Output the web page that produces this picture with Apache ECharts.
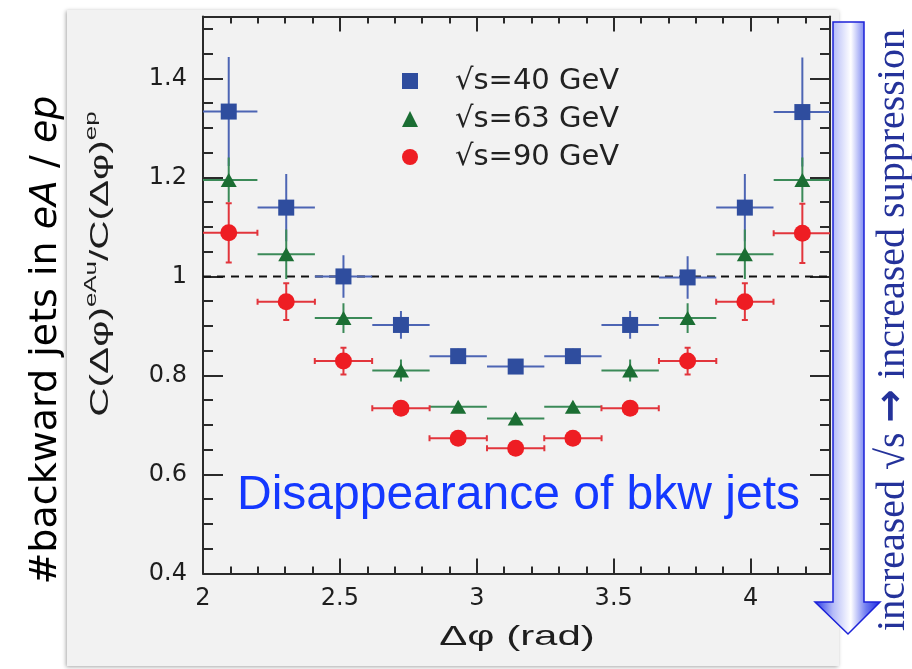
<!DOCTYPE html>
<html>
<head>
<meta charset="utf-8">
<script src="https://cdn.jsdelivr.net/npm/echarts@6/dist/echarts.min.js"></script>
<style>
  html, body { margin: 0; padding: 0; background: #ffffff; }
  #chart { width: 912px; height: 669px; }
</style>
</head>
<body>
<div id="chart"></div>
<script>
// Azimuthal decorrelation ratio eAu / ep for backward dijets at three collision energies.
const PHI = [2.094, 2.304, 2.513, 2.723, 2.932, 3.142, 3.351, 3.560, 3.770, 3.979, 4.189];
const BIN_HALF_WIDTH = 0.1047;

const SERIES_NAMES = ['\u221As=40 GeV', '\u221As=63 GeV', '\u221As=90 GeV'];

const RATIO_40 = [1.333, 1.139, 1.000, 0.902, 0.839, 0.818, 0.839, 0.902, 0.998, 1.139, 1.332];
const ERR_40   = [0.110, 0.068, 0.043, 0.028, 0.015, 0.010, 0.015, 0.028, 0.043, 0.068, 0.110];

const RATIO_63 = [1.195, 1.045, 0.916, 0.810, 0.737, 0.713, 0.737, 0.810, 0.916, 1.045, 1.195];
const ERR_63   = [0.045, 0.050, 0.030, 0.022, 0.010, 0.008, 0.010, 0.022, 0.030, 0.050, 0.045];

const RATIO_90 = [1.088, 0.949, 0.829, 0.734, 0.673, 0.653, 0.673, 0.734, 0.829, 0.949, 1.087];
const ERR_90   = [0.060, 0.037, 0.027, 0.012, 0.006, 0.005, 0.006, 0.012, 0.027, 0.037, 0.060];

const UNITY = 1;
const X_MIN = 2, X_MAX = 4.29;
const Y_MIN = 0.4, Y_MAX = 1.525;

const AXIS_COLOR = '#2a2a2a';
const tickFont = { fontFamily: 'DejaVu Sans', fontSize: 24, color: '#1e1e1e' };

function errorBarRenderer(color, width, cap) {
  return function (params, api) {
    const x = api.value(0), y = api.value(1), ex = api.value(2), ey = api.value(3);
    const l = api.coord([x - ex, y]), r = api.coord([x + ex, y]);
    const t = api.coord([x, y + ey]), b = api.coord([x, y - ey]);
    const st = { stroke: color, lineWidth: width };
    const children = [
      { type: 'line', shape: { x1: l[0], y1: l[1], x2: r[0], y2: r[1] }, style: st },
      { type: 'line', shape: { x1: t[0], y1: t[1], x2: b[0], y2: b[1] }, style: st }
    ];
    if (cap) {
      children.push(
        { type: 'line', shape: { x1: l[0], y1: l[1] - cap, x2: l[0], y2: l[1] + cap }, style: st },
        { type: 'line', shape: { x1: r[0], y1: r[1] - cap, x2: r[0], y2: r[1] + cap }, style: st },
        { type: 'line', shape: { x1: t[0] - cap, y1: t[1], x2: t[0] + cap, y2: t[1] }, style: st },
        { type: 'line', shape: { x1: b[0] - cap, y1: b[1], x2: b[0] + cap, y2: b[1] }, style: st }
      );
    }
    return { type: 'group', children: children };
  };
}

function errData(vals, errs) {
  return PHI.map((p, i) => [p, vals[i], BIN_HALF_WIDTH, errs[i]]);
}
function pointData(vals) {
  return PHI.map((p, i) => [p, vals[i]]);
}

function xAxisDef(position, interval, tickLen, withLine, withLabels) {
  return {
    type: 'value', position: position, min: X_MIN, max: X_MAX, interval: interval,
    axisLine: { show: withLine, lineStyle: { color: AXIS_COLOR, width: 2 } },
    axisTick: { show: true, inside: true, length: tickLen, lineStyle: { color: AXIS_COLOR, width: 2 } },
    axisLabel: withLabels ? Object.assign({ show: true, margin: 13, showMaxLabel: false }, tickFont) : { show: false },
    splitLine: { show: false }
  };
}
function yAxisDef(position, interval, tickLen, withLine, withLabels) {
  return {
    type: 'value', position: position, min: Y_MIN, max: Y_MAX, interval: interval,
    axisLine: { show: withLine, lineStyle: { color: AXIS_COLOR, width: 2 } },
    axisTick: { show: true, inside: true, length: tickLen, lineStyle: { color: AXIS_COLOR, width: 2 } },
    axisLabel: withLabels ? Object.assign({ show: true, margin: 16, showMaxLabel: false }, tickFont) : { show: false },
    splitLine: { show: false }
  };
}

const chart = echarts.init(document.getElementById('chart'), null, { renderer: 'canvas' });

chart.setOption({
  animation: false,
  backgroundColor: '#ffffff',
  grid: { left: 203, right: 82, top: 16.5, bottom: 95.5, show: false },
  xAxis: [
    xAxisDef('bottom', 0.5, 15, true, true),
    xAxisDef('bottom', 0.1, 7, false, false),
    xAxisDef('top', 0.5, 15, true, false),
    xAxisDef('top', 0.1, 7, false, false)
  ],
  yAxis: [
    yAxisDef('left', 0.2, 20, true, true),
    yAxisDef('left', 0.05, 10, false, false),
    yAxisDef('right', 0.2, 20, true, false),
    yAxisDef('right', 0.05, 10, false, false)
  ],
  legend: {
    data: SERIES_NAMES,
    orient: 'vertical',
    left: 397, top: 61,
    itemWidth: 16, itemHeight: 16, itemGap: 8,
    textStyle: { fontFamily: 'DejaVu Sans', fontSize: 29, color: '#222', lineHeight: 30, padding: [0, 0, 0, 32] }
  },
  graphic: [
    {
      type: 'rect', z: -100, silent: true,
      shape: { x: 67, y: 10, width: 772, height: 656 },
      style: { fill: '#f2f2f2', shadowColor: 'rgba(0,0,0,0.35)', shadowBlur: 4, shadowOffsetX: -1, shadowOffsetY: 1 }
    },
    {
      // downward arrow beside the plot frame
      type: 'polygon', z: 10, silent: true,
      shape: { points: [[833, 22], [864, 22], [864, 602], [880, 602], [848, 634], [815, 602], [833, 602]] },
      style: {
        stroke: '#1c22d8', lineWidth: 1.5,
        fill: new echarts.graphic.LinearGradient(0, 0, 1, 0, [
          { offset: 0, color: '#2030e6' },
          { offset: 0.28, color: '#b4bbf7' },
          { offset: 0.55, color: '#ffffff' },
          { offset: 0.78, color: '#6e7bf0' },
          { offset: 1, color: '#1a28e0' }
        ])
      }
    },
    {
      type: 'text', z: 10, silent: true,
      x: 893, y: 330, rotation: Math.PI / 2,
      style: {
        text: '{t|increased \u221As }{a|\u2192}{t| increased suppression}',
        align: 'center', verticalAlign: 'middle',
        rich: {
          t: { fontFamily: 'Liberation Serif', fontSize: 40, fill: '#24329a', lineHeight: 44 },
          a: { fontFamily: 'DejaVu Sans', fontSize: 40, fontWeight: 'bold', fill: '#24329a', lineHeight: 44 }
        }
      }
    },
    {
      type: 'text', z: 10, silent: true,
      x: 46, y: 340, rotation: Math.PI / 2,
      style: {
        text: '#backward jets in {it|eA}{n| / }{it|ep}',
        fontFamily: 'DejaVu Sans', fontSize: 38, fill: '#000',
        align: 'center', verticalAlign: 'middle',
        rich: {
          it: { fontFamily: 'DejaVu Sans', fontSize: 38, fontStyle: 'italic', fill: '#000' },
          n: { fontFamily: 'DejaVu Sans', fontSize: 38, fill: '#000' }
        }
      }
    },
    {
      type: 'text', z: 10, silent: true,
      x: 99, y: 264, rotation: Math.PI / 2, scaleX: 1.62,
      style: {
        text: '{m|C(\u0394\u03C6)}{s|eAu}{m|/C(\u0394\u03C6)}{s|ep}',
        align: 'center', verticalAlign: 'middle',
        rich: {
          m: { fontFamily: 'Liberation Sans', fontSize: 25, fill: '#1e1e1e', lineHeight: 30, verticalAlign: 'bottom' },
          s: { fontFamily: 'Liberation Sans', fontSize: 16, fill: '#1e1e1e', lineHeight: 30, verticalAlign: 'top' }
        }
      }
    },
    {
      type: 'text', z: 10, silent: true,
      x: 517, y: 637, scaleX: 1.5,
      style: {
        text: '\u0394\u03C6 (rad)',
        font: '28px "Liberation Sans"', fill: '#1e1e1e',
        align: 'center', verticalAlign: 'middle'
      }
    },
    {
      type: 'text', z: 10, silent: true,
      x: 237, y: 496,
      style: {
        text: 'Disappearance of bkw jets',
        font: '48px "Liberation Sans"', fill: '#1438ff',
        align: 'left', verticalAlign: 'middle'
      }
    }
  ],
  series: [
    {
      type: 'line', silent: true, z: 1, symbol: 'none',
      data: [[X_MIN, UNITY], [X_MAX, UNITY]],
      lineStyle: { color: '#111', width: 2, type: [8, 6] }
    },
    {
      type: 'custom', silent: true, z: 2, clip: true,
      renderItem: errorBarRenderer('#4d65b4', 2, 0),
      encode: { x: 0, y: 1 },
      data: errData(RATIO_40, ERR_40)
    },
    {
      type: 'custom', silent: true, z: 2, clip: true,
      renderItem: errorBarRenderer('#3b8a58', 2, 0),
      encode: { x: 0, y: 1 },
      data: errData(RATIO_63, ERR_63)
    },
    {
      type: 'custom', silent: true, z: 2, clip: true,
      renderItem: errorBarRenderer('#e2353c', 2, 3),
      encode: { x: 0, y: 1 },
      data: errData(RATIO_90, ERR_90)
    },
    {
      name: SERIES_NAMES[0], type: 'scatter', z: 3,
      symbol: 'rect', symbolSize: 16,
      itemStyle: { color: '#2f4d9e', opacity: 1 },
      data: pointData(RATIO_40)
    },
    {
      name: SERIES_NAMES[1], type: 'scatter', z: 3,
      symbol: 'triangle', symbolSize: [16, 14],
      itemStyle: { color: '#1b6e33', opacity: 1 },
      data: pointData(RATIO_63)
    },
    {
      name: SERIES_NAMES[2], type: 'scatter', z: 3,
      symbol: 'circle', symbolSize: 17,
      itemStyle: { color: '#ee1d23', opacity: 1 },
      data: pointData(RATIO_90)
    }
  ]
});
</script>
</body>
</html>
